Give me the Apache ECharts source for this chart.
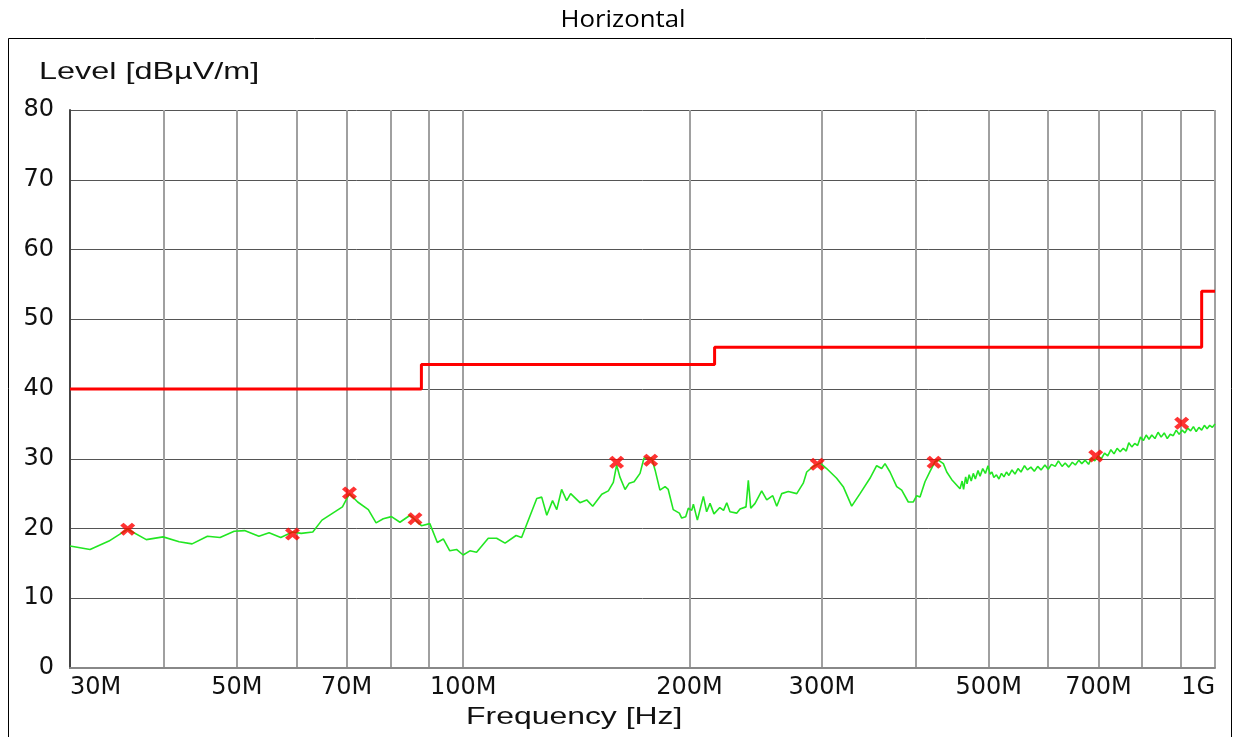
<!DOCTYPE html>
<html>
<head>
<meta charset="utf-8">
<script src="https://cdn.jsdelivr.net/npm/echarts@6/dist/echarts.min.js"></script>
<style>html,body{margin:0;padding:0;background:#fff}#c{width:1234px;height:737px}</style>
</head>
<body>
<div id="c"></div>
<script>
// ---- data (frequencies in MHz, levels in dBµV/m) ----
const gridFreqs = [30,40,50,60,70,80,90,100,200,300,400,500,600,700,800,900,1000];
const tickFreqs = [30,50,70,100,200,300,500,700,1000];
const tickLabels = ['30M','50M','70M','100M','200M','300M','500M','700M','1G'];
const yTicks = [0,10,20,30,40,50,60,70,80];

const limitFreq = [30, 88, 216, 960, 1000];
const limitLevel = [40, 43.5, 46, 54, 54];

const traceFreq = [
 30,31.9,33.8,35.8,37.9,39.9,41.9,43.6,45.7,47.5,49.6,51.2,53.5,55.2,57.2,59.3,60.9,63.1,64.9,69.1,
 70.6,72.4,74.8,76.6,78.3,80.3,82.4,85.0,88.0,90.3,92.4,94.1,96.0,98.0,100.0,102.1,104.2,108.0,110.8,113.7,
 117.6,119.6,125.3,127.2,129.2,131.5,133.2,135.2,137.3,139.0,143.0,146.0,148.7,152.9,156.0,158.4,160.0,161.6,164.2,166.3,
 168.8,171.9,174.0,178.1,180.0,182.7,185.6,187.4,190.3,193.9,195.3,197.7,199.3,201.4,202.4,204.9,208.7,210.8,213.0,215.6,
 219.5,222.0,224.2,226.4,231.1,233.5,237.8,239.5,241.3,244.5,249.5,253.4,258.1,261.3,265.3,270.7,277.8,283.4,286.4,292.2,
 298.3,304.4,313.9,320.3,328.7,337.2,347.6,354.8,360.3,364.0,369.6,377.3,383.1,390.9,397.0,401.1,405.2,411.4,417.8,424.3,
 428.6,435.2,439.8,446.6,458,461,463,466,468,471,474,477,480,484,487,491,495,499,502,505,
 508,512,516,520,524,528,532,537,542,547,552,558,563,569,575,581,587,594,600,606,
 613,619,626,632,639,646,652,659,665,672,679,685,692,699,706,713,720,727,734,741,
 748,755,762,768,775,782,789,796,803,810,817,824,832,840,848,856,864,872,880,888,
 896,904,912,920,928,936,944,952,960,968,976,984,992,1000
];
const traceLevel = [
 17.5,17.0,18.2,19.9,18.4,18.8,18.1,17.8,18.9,18.7,19.6,19.7,18.9,19.4,18.7,19.5,19.3,19.5,21.2,23.1,
 25.0,23.8,22.7,20.8,21.4,21.7,20.9,21.9,20.4,20.7,18.0,18.5,16.8,17.0,16.2,16.8,16.6,18.6,18.6,17.9,
 19.0,18.7,24.3,24.5,21.9,24.0,22.7,25.6,24.0,25.0,23.7,24.1,23.2,24.9,25.4,26.6,29.1,27.4,25.6,26.5,
 26.7,27.9,30.1,30.1,28.4,25.5,26.0,25.6,22.7,22.2,21.5,21.7,22.9,22.6,23.5,21.2,24.6,22.4,23.6,22.1,
 23.0,22.6,23.7,22.4,22.2,22.8,23.1,26.9,22.9,23.6,25.4,24.1,24.7,23.2,25.0,25.3,25.0,26.5,28.1,28.9,
 29.4,28.6,27.2,26.0,23.2,25.0,27.2,29.0,28.6,29.3,28.1,26.0,25.5,23.8,23.8,24.7,24.5,26.7,28.2,29.6,
 29.8,29.3,28.1,27.0,25.7,26.8,25.6,27.4,26.4,27.7,26.8,27.9,27.1,28.3,27.5,28.6,27.9,29.0,27.8,28.1,
 27.3,27.7,27.1,27.9,27.4,28.1,27.6,28.4,27.8,28.6,28.1,29.0,28.4,28.8,28.2,28.9,28.4,29.1,28.5,29.2,
 28.9,29.7,28.9,29.4,28.8,29.5,29.1,29.8,29.3,29.8,29.2,30.1,29.7,30.4,30.0,30.8,30.4,31.3,30.7,31.5,
 31.0,31.5,31.1,32.3,31.7,32.2,31.9,33.1,32.6,33.4,32.8,33.4,32.9,33.8,33.1,33.7,32.9,33.5,33.3,34.1,
 33.5,34.1,33.7,34.4,34.0,34.6,33.9,34.5,34.1,34.8,34.3,34.8,34.5,35.0
];

const markerFreq = [35.8, 59.3, 70.6, 86.3, 160.0, 177.6, 295.8, 423, 694, 903];
const markerLevel = [19.9, 19.2, 25.1, 21.4, 29.5, 29.8, 29.2, 29.5, 30.4, 35.1];

// ---- build ----
const L = v => Math.log10(v);
const pairs = (fs, ls) => fs.map((f, i) => [L(f), ls[i]]);
const labelFor = v => {
  const f = Math.pow(10, v);
  let best = 0, bd = Infinity;
  tickFreqs.forEach((t, i) => { const d = Math.abs(t - f); if (d < bd) { bd = d; best = i; } });
  return tickLabels[best];
};

const chart = echarts.init(document.getElementById('c'), null, {renderer: 'canvas'});
const option = {
  animation: false,
  backgroundColor: '#fff',
  grid: {left: 70, right: 19, top: 110, bottom: 69, containLabel: false},
  xAxis: {
    type: 'value',
    min: L(30), max: L(1000),
    axisLine: {show: true, onZero: false, lineStyle: {color: '#888', width: 2}},
    axisTick: {show: false, customValues: gridFreqs.map(L)},
    splitLine: {show: true, lineStyle: {color: '#a0a0a0', width: 2}},
    axisLabel: {
      customValues: tickFreqs.map(L),
      formatter: v => labelFor(v),
      fontFamily: 'DejaVu Sans', fontSize: 24, color: '#111', margin: 8,
      alignMinLabel: 'left', alignMaxLabel: 'right'
    }
  },
  yAxis: {
    type: 'value', min: 0, max: 80, interval: 10,
    axisLine: {show: true, lineStyle: {color: '#444', width: 2}},
    axisTick: {show: false},
    splitLine: {show: true, lineStyle: {color: '#555', width: 1}},
    axisLabel: {fontFamily: 'DejaVu Sans', fontSize: 24, color: '#111', margin: 16}
  },
  graphic: [
    {type: 'rect', shape: {x: 8.5, y: 38.5, width: 1223, height: 760}, style: {fill: 'none', stroke: '#000', lineWidth: 1}, silent: true},
    {type: 'text', x: 623, y: 20, scaleX: 1.12, style: {text: 'Horizontal', fontFamily: 'Open Sans', fontSize: 23, fill: '#000', align: 'center', verticalAlign: 'middle'}},
    {type: 'text', x: 39, y: 72, scaleX: 1.35, style: {text: 'Level [dBµV/m]', fontFamily: 'Liberation Sans', fontSize: 24, fill: '#111', align: 'left', verticalAlign: 'middle'}},
    {type: 'text', x: 466, y: 717, scaleX: 1.33, style: {text: 'Frequency [Hz]', fontFamily: 'Liberation Sans', fontSize: 24, fill: '#111', align: 'left', verticalAlign: 'middle'}}
  ],
  series: [
    {
      name: 'Level', type: 'line', data: pairs(traceFreq, traceLevel),
      showSymbol: false, symbol: 'none', z: 3,
      lineStyle: {color: '#22e622', width: 1.6}
    },
    {
      name: 'Limit', type: 'line', step: 'end', data: pairs(limitFreq, limitLevel),
      showSymbol: false, symbol: 'none', z: 4,
      lineStyle: {color: '#ff0000', width: 3}
    },
    {
      name: 'Peaks', type: 'scatter', data: pairs(markerFreq, markerLevel), z: 5,
      symbol: 'path://M0,2.2L2.2,0L5,2.8L7.8,0L10,2.2L7.2,5L10,7.8L7.8,10L5,7.2L2.2,10L0,7.8L2.8,5Z',
      symbolSize: [15, 13],
      itemStyle: {color: '#ff0000'}
    }
  ]
};
chart.setOption(option);
</script>
</body>
</html>
